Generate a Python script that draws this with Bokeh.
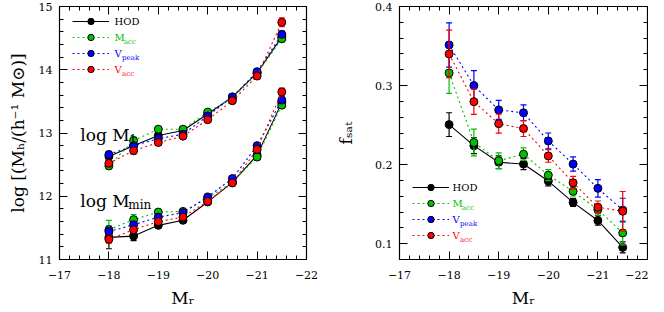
from bokeh.plotting import figure
from bokeh.models import (Range1d, LinearAxis, SingleIntervalTicker, CustomJSTickFormatter,
                          Label, Legend, LegendItem, ColumnDataSource)
from bokeh.layouts import row
from bokeh.embed import file_html
from bokeh.resources import INLINE

# ---------------- data ----------------
mr = [-18.0, -18.5, -19.0, -19.5, -20.0, -20.5, -21.0, -21.5]

# left panel: log M1
m1_hod = [12.63, 12.80, 12.96, 13.04, 13.30, 13.57, 13.95, 14.52]
m1_macc = [12.48, 12.88, 13.06, 13.06, 13.33, 13.55, 13.94, 14.49]
m1_vpeak = [12.66, 12.80, 12.91, 12.98, 13.27, 13.57, 13.97, 14.56]
m1_vacc = [12.52, 12.72, 12.85, 12.95, 13.21, 13.51, 13.90, 14.75]
m1_hod_err = [0.05, 0.04, 0.03, 0.03, 0.03, 0.03, 0.04, 0.05]
m1_macc_err = [0.05, 0.06, 0.03, 0.03, 0.03, 0.03, 0.04, 0.05]
m1_vpeak_err = [0.05, 0.04, 0.03, 0.03, 0.03, 0.03, 0.04, 0.05]
m1_vacc_err = [0.05, 0.05, 0.03, 0.03, 0.03, 0.03, 0.04, 0.07]

# left panel: log Mmin
mmin_hod = [11.35, 11.37, 11.54, 11.62, 11.91, 12.22, 12.65, 13.48]
mmin_macc = [11.47, 11.63, 11.75, 11.76, 11.97, 12.22, 12.62, 13.44]
mmin_vpeak = [11.44, 11.55, 11.67, 11.74, 11.99, 12.28, 12.80, 13.52]
mmin_vacc = [11.32, 11.47, 11.60, 11.67, 11.92, 12.21, 12.74, 13.65]
mmin_hod_err = [0.18, 0.07, 0.04, 0.04, 0.03, 0.03, 0.04, 0.05]
mmin_macc_err = [0.15, 0.08, 0.04, 0.04, 0.03, 0.03, 0.04, 0.05]
mmin_vpeak_err = [0.06, 0.05, 0.04, 0.04, 0.03, 0.03, 0.05, 0.05]
mmin_vacc_err = [0.06, 0.05, 0.04, 0.04, 0.03, 0.03, 0.05, 0.06]

# right panel: f_sat
fsat_hod = [0.2506, 0.224, 0.203, 0.2007, 0.1792, 0.1522, 0.1294, 0.0953]
fsat_macc = [0.316, 0.228, 0.2049, 0.2132, 0.1867, 0.1663, 0.143, 0.1136]
fsat_vpeak = [0.3514, 0.300, 0.2692, 0.2655, 0.230, 0.2007, 0.170, 0.1425]
fsat_vacc = [0.340, 0.2796, 0.2518, 0.2456, 0.211, 0.1771, 0.146, 0.141]
fsat_hod_err = [0.015, 0.010, 0.008, 0.007, 0.006, 0.005, 0.006, 0.007]
fsat_macc_err = [0.026, 0.017, 0.010, 0.008, 0.007, 0.006, 0.007, 0.015]
fsat_vpeak_err = [0.028, 0.019, 0.012, 0.010, 0.010, 0.009, 0.011, 0.015]
fsat_vacc_err = [0.030, 0.016, 0.012, 0.010, 0.008, 0.008, 0.008, 0.025]

series = ["HOD", "Macc", "Vpeak", "Vacc"]
colors = ["#000000", "#00c000", "#0000ff", "#ff0000"]
dashes = ["solid", "2 3", "2 3", "2 3"]
legend_main = ["HOD", "M", "V", "V"]
legend_sub = ["", "acc", "peak", "acc"]

FONT = "DejaVu Serif"
MINUS = "\u2212"
B_TOP = 6
B_BOT = 50
FRAME_H = 254
FIG_H = B_TOP + FRAME_H + B_BOT


def style_axis(ax):
    ax.major_tick_in = 8
    ax.major_tick_out = 0
    ax.minor_tick_in = 4
    ax.minor_tick_out = 0
    ax.axis_line_color = "black"
    ax.major_tick_line_color = "black"
    ax.minor_tick_line_color = "black"
    ax.axis_line_width = 1.2
    ax.major_label_text_font = FONT
    ax.major_label_text_color = "black"
    ax.axis_label_text_font = FONT
    ax.axis_label_text_font_style = "normal"
    ax.axis_label_text_color = "black"
    ax.axis_label_text_font_size = "17px"


def setup_axes(p, y_interval, y_digits):
    xb = p.below[0]
    yl = p.left[0]
    xb.ticker = SingleIntervalTicker(interval=1, num_minor_ticks=5)
    yl.ticker = SingleIntervalTicker(interval=y_interval, num_minor_ticks=5)
    xb.formatter = CustomJSTickFormatter(
        code="return (tick < 0 ? '" + MINUS + "' : '') + Math.abs(tick).toFixed(0);")
    yl.formatter = CustomJSTickFormatter(code="return tick.toFixed(%d);" % y_digits)
    for ax in (xb, yl):
        style_axis(ax)
        ax.major_label_text_font_size = "11px"
        ax.major_label_standoff = 7
    xb.major_label_standoff = 11
    xb.axis_label_standoff = 6
    ax_r = LinearAxis(ticker=SingleIntervalTicker(interval=y_interval, num_minor_ticks=5))
    ax_t = LinearAxis(ticker=SingleIntervalTicker(interval=1, num_minor_ticks=5))
    for ax in (ax_r, ax_t):
        style_axis(ax)
        ax.major_label_text_alpha = 0
        ax.major_label_text_color = None
        ax.major_label_text_font_size = "1px"
        ax.major_label_standoff = 0
    p.add_layout(ax_r, "right")
    p.add_layout(ax_t, "above")
    p.xgrid.visible = False
    p.ygrid.visible = False
    p.outline_line_color = "black"
    return yl


def draw(p, x, y, err, color, dash):
    src = ColumnDataSource(dict(x=x, y=y,
                                lo=[a - b for a, b in zip(y, err)],
                                hi=[a + b for a, b in zip(y, err)]))
    line = p.line("x", "y", source=src, line_color=color, line_width=1.1, line_dash=dash)
    p.segment(x0="x", y0="lo", x1="x", y1="hi", source=src, line_color=color, line_width=1.2)
    p.scatter("x", "lo", source=src, marker="dash", size=6, line_color=color, line_width=1.2)
    p.scatter("x", "hi", source=src, marker="dash", size=6, line_color=color, line_width=1.2)
    pts = p.scatter("x", "y", source=src, size=8, fill_color=color, line_color="black",
                    line_width=1)
    return line, pts


def add_text(p, x, y, main, sub, color, size, sub_size, sub_dx, sub_dy, units="screen",
             baseline="middle"):
    p.add_layout(Label(x=x, y=y, x_units=units, y_units=units, text=main, text_color=color,
                       text_font=FONT, text_font_size="%dpx" % size, text_baseline=baseline,
                       text_align="left"))
    if sub:
        p.add_layout(Label(x=x, y=y, x_units=units, y_units=units, x_offset=sub_dx,
                           y_offset=-sub_dy, text=sub, text_color=color, text_font=FONT,
                           text_font_size="%dpx" % sub_size, text_baseline=baseline,
                           text_align="left"))


def add_legend(p, renderers, loc, text_x, text_rows):
    items = [LegendItem(label=" ", renderers=list(r)) for r in renderers]
    leg = Legend(items=items, location=loc, glyph_width=37, glyph_height=16, label_width=0,
                 label_height=16, label_standoff=0, padding=0, spacing=0, margin=0,
                 border_line_alpha=0, background_fill_alpha=0, label_text_font_size="1px")
    p.add_layout(leg)
    main_w = {"HOD": 0, "M": 9.3, "V": 7.6}
    for i in range(4):
        add_text(p, text_x, text_rows[i], legend_main[i], legend_sub[i], colors[i], 10, 7,
                 main_w[legend_main[i]], 4)


# ---------------- left panel ----------------
p1 = figure(width=318, height=FIG_H, x_range=Range1d(-17, -22), y_range=Range1d(11, 15),
            min_border_left=59, min_border_right=12, min_border_top=B_TOP,
            min_border_bottom=B_BOT, toolbar_location=None, output_backend="svg",
            x_axis_label="M\u1d63", y_axis_label="log [(M\u2095/(h\u207b\u00b9 M\u2299)]")
yl1 = setup_axes(p1, 1, 0)
yl1.axis_label_standoff = 8

m1_sets = [(m1_hod, m1_hod_err), (m1_macc, m1_macc_err), (m1_vpeak, m1_vpeak_err),
           (m1_vacc, m1_vacc_err)]
mmin_sets = [(mmin_hod, mmin_hod_err), (mmin_macc, mmin_macc_err),
             (mmin_vpeak, mmin_vpeak_err), (mmin_vacc, mmin_vacc_err)]
leg1 = []
for i in range(4):
    leg1.append(draw(p1, mr, m1_sets[i][0], m1_sets[i][1], colors[i], dashes[i]))
    draw(p1, mr, mmin_sets[i][0], mmin_sets[i][1], colors[i], dashes[i])
add_legend(p1, leg1, (13, FRAME_H - 8 - 64), 55,
           [FRAME_H - 16, FRAME_H - 32, FRAME_H - 48, FRAME_H - 64])

add_text(p1, -17.42, 12.97, "log M", "1", "black", 17, 12, 49, 4, units="data",
         baseline="alphabetic")
add_text(p1, -17.42, 11.93, "log M", "min", "black", 17, 12, 48, 4, units="data",
         baseline="alphabetic")

# ---------------- right panel ----------------
p2 = figure(width=330, height=FIG_H, x_range=Range1d(-17, -22), y_range=Range1d(0.08, 0.4),
            min_border_left=81, min_border_right=1, min_border_top=B_TOP,
            min_border_bottom=B_BOT, toolbar_location=None, output_backend="svg",
            x_axis_label="M\u1d63", y_axis_label="f\u209b\u2090\u209c")
yl2 = setup_axes(p2, 0.1, 1)
yl2.axis_label_standoff = 16

f_sets = [(fsat_hod, fsat_hod_err), (fsat_macc, fsat_macc_err), (fsat_vpeak, fsat_vpeak_err),
          (fsat_vacc, fsat_vacc_err)]
leg2 = []
for i in range(4):
    leg2.append(draw(p2, mr, f_sets[i][0], f_sets[i][1], colors[i], dashes[i]))
add_legend(p2, leg2, (13, 16), 53, [72, 56, 40, 24])

layout = row(p1, p2)
open("out.html", "w", encoding="utf-8").write(file_html(layout, INLINE))
